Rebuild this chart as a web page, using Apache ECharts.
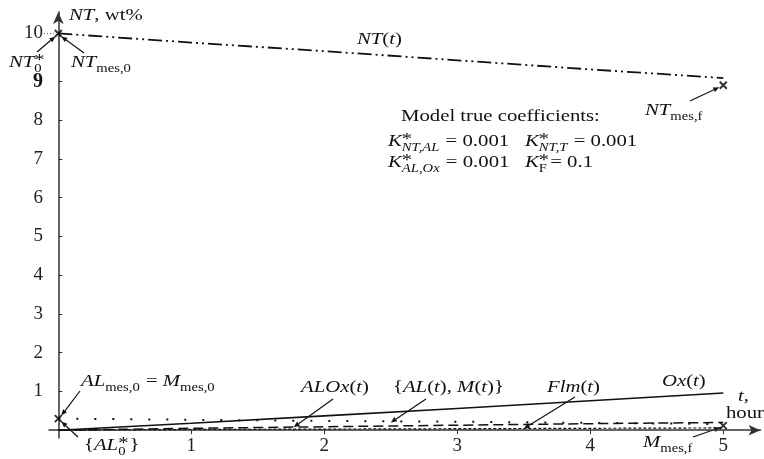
<!DOCTYPE html>
<html><head><meta charset="utf-8">
<script src="https://cdn.jsdelivr.net/npm/echarts@6/dist/echarts.min.js"></script>
<style>html,body{margin:0;padding:0;background:#fff}#c{width:764px;height:459px}</style>
</head><body><div id="c"></div>
<script>
// ---- data ----
const tHours   = [0, 1, 2, 3, 4, 5];
const NT       = [10, 9.81, 9.63, 9.44, 9.25, 9.07];
const Ox       = [0, 0.18, 0.37, 0.56, 0.76, 0.96];
const ALM      = [0.3, 0.27, 0.24, 0.22, 0.19, 0.16];
const ALOx     = [0, 0.05, 0.09, 0.13, 0.17, 0.2];
const Flm      = [0, 0.02, 0.03, 0.04, 0.05, 0.06];
const NTmeas   = [[0, 10], [5, 8.9]];
const ALMmeas  = [[0, 0.3], [5, 0.12]];
const yTicks   = [1, 2, 3, 4, 5, 6, 7, 8, 9, 10];
const xTicks   = [1, 2, 3, 4, 5];

// the reference's y axis is stretched between 9 and 10
const STRETCH = 1.237;
function warp(v) { return v <= 9 ? v : 9 + (v - 9) * STRETCH; }
function unwarp(v) { return v <= 9 ? v : 9 + (v - 9) / STRETCH; }
const pairs = arr => tHours.map((t, i) => [t, warp(arr[i])]);

const SERIF = '"Liberation Serif","DejaVu Serif",serif';
const chart = echarts.init(document.getElementById('c'), null, {renderer: 'canvas'});
const X = 'path://M0,0L10,10M10,0L0,10';

const lineS = (name, arr, type, width) => ({
  name, type: 'line', data: pairs(arr), symbol: 'none', animation: false,
  lineStyle: {color: '#111', width: width || 1.4, type}
});

chart.setOption({
  animation: false,
  backgroundColor: '#fff',
  grid: {left: 49, right: 3.5, top: 12, bottom: 21, containLabel: false, outerBoundsMode: 'none'},
  xAxis: {
    type: 'value', min: -0.07, max: 5.28,
    axisLine: {onZero: true, lineStyle: {color: '#333', width: 1.5}, symbol: ['none', 'arrow'], symbolSize: [8, 12]},
    axisTick: {show: true, length: 4, customValues: xTicks, lineStyle: {color: '#333'}},
    axisLabel: {customValues: xTicks, margin: -1, color: '#222', fontSize: 19, fontFamily: SERIF},
    splitLine: {show: false}
  },
  yAxis: {
    type: 'value', min: -0.2, max: 10.79,
    axisLine: {show: true, onZero: true, lineStyle: {color: '#333', width: 1.5}, symbol: ['none', 'arrow'], symbolSize: [8, 12]},
    axisTick: {show: true, inside: true, length: 4, customValues: yTicks.map(warp), lineStyle: {color: '#333'}},
    axisLabel: {
      customValues: yTicks.map(warp), margin: 6, color: '#222', fontSize: 19, fontFamily: SERIF,
      formatter: v => { const n = Math.round(unwarp(v)); return n === 9 ? '{b|9}' : String(n); },
      rich: {b: {fontWeight: 'bold', fontSize: 20, fontFamily: SERIF, color: '#111'}}
    },
    splitLine: {show: false}
  },
  series: [
    lineS('NT', NT, [14, 4, 2, 4, 2, 4], 1.8),
    lineS('Ox', Ox, 'solid', 1.6),
    lineS('ALM', ALM, [2, 16], 2),
    lineS('ALOx', ALOx, [10, 5], 1.5),
    lineS('Flm', Flm, [3, 2], 1.2),
    {type: 'scatter', symbol: X, symbolSize: 7, data: NTmeas.map(p => [p[0], warp(p[1])]),
     itemStyle: {color: 'none', borderColor: '#000', borderWidth: 2}, z: 5},
    {type: 'scatter', symbol: X, symbolSize: 7, data: ALMmeas.map(p => [p[0], warp(p[1])]),
     itemStyle: {color: 'none', borderColor: '#000', borderWidth: 2}, z: 5}
  ]
});

// ---- annotations ----
const SX = 1.22; // the reference's lettering is horizontally wide
const ctx = document.createElement('canvas').getContext('2d');
function fnt(size, it) { return (it ? 'italic ' : '') + size + 'px ' + SERIF; }
function mw(s, size, it) { ctx.font = fnt(size, it); return ctx.measureText(s).width * SX; }
function txt(x, y, s, size, it) {
  return {type: 'text', x, y, scaleX: SX, silent: true,
    style: {text: s, fontSize: size, fontFamily: SERIF, fontStyle: it ? 'italic' : 'normal',
            fill: '#111', verticalAlign: 'middle', align: 'left'}};
}
const M = 17, S = 12;
// parts: [text, italic] main; {sub, it} ; {sup} ; {sup, sub}
function label(x, y, parts) {
  const els = []; let cx = x;
  parts.forEach(p => {
    if (Array.isArray(p)) {
      els.push(txt(cx, y, p[0], M, p[1])); cx += mw(p[0], M, p[1]);
    } else {
      let wd = 0;
      if (p.sup) { els.push(txt(cx, y - 2, p.sup, 17, false)); wd = Math.max(wd, mw(p.sup, 17, false)); }
      if (p.sub) { els.push(txt(cx, y + 6, p.sub, S, p.it)); wd = Math.max(wd, mw(p.sub, S, p.it)); }
      cx += wd + 1;
    }
  });
  return els;
}
function arrow(x1, y1, x2, y2) {
  const a = Math.atan2(y2 - y1, x2 - x1), L = 6, W = 2.5;
  const bx = x2 - L * Math.cos(a), by = y2 - L * Math.sin(a);
  const px = -Math.sin(a) * W, py = Math.cos(a) * W;
  return [{type: 'line', silent: true, shape: {x1, y1, x2: bx, y2: by}, style: {stroke: '#111', lineWidth: 1.2}},
          {type: 'polygon', silent: true, shape: {points: [[x2, y2], [bx + px, by + py], [bx - px, by - py]]}, style: {fill: '#111'}}];
}
const px = (t, v) => chart.convertToPixel({gridIndex: 0}, [t, warp(v)]);

const pNT0 = px(NTmeas[0][0], NTmeas[0][1]);
const pNTf = px(NTmeas[1][0], NTmeas[1][1]);
const pAL0 = px(ALMmeas[0][0], ALMmeas[0][1]);
const pMf  = px(ALMmeas[1][0], ALMmeas[1][1]);
const pALOx = px(1.77, 0.08);
const pALM  = px(2.5, 0.2);
const pFlm  = px(3.5, 0.04);

let g = [];
g = g.concat(
  label(69, 16, [['NT', true], [', wt%', false]]),
  label(9, 63, [['NT', true], {sup: '*', sub: '0'}]),
  arrow(37, 52, pNT0[0] - 3, pNT0[1] + 3),
  label(71, 63, [['NT', true], {sub: 'mes,0'}]),
  arrow(84, 53, pNT0[0] + 3, pNT0[1] + 3),
  label(357, 40, [['NT', true], ['(', false], ['t', true], [')', false]]),
  label(645, 111, [['NT', true], {sub: 'mes,f'}]),
  arrow(690, 101, pNTf[0] - 4, pNTf[1] + 2),
  label(401, 117, [['Model true coefficients:', false]]),
  label(388, 142, [['K', true], {sup: '*', sub: 'NT,AL', it: true}, [' = 0.001', false]]),
  label(525, 142, [['K', true], {sup: '*', sub: 'NT,T', it: true}, [' = 0.001', false]]),
  label(388, 163, [['K', true], {sup: '*', sub: 'AL,Ox', it: true}, [' = 0.001', false]]),
  label(525, 163, [['K', true], {sup: '*', sub: 'F'}, ['= 0.1', false]]),
  label(81, 382, [['AL', true], {sub: 'mes,0'}, [' = ', false], ['M', true], {sub: 'mes,0'}]),
  arrow(80, 391, pAL0[0] + 3, pAL0[1] - 3),
  label(84, 446, [['{', false], ['AL', true], {sup: '*', sub: '0'}, ['}', false]]),
  arrow(78, 437, pAL0[0] + 3, pAL0[1] + 3),
  label(301, 388, [['ALOx', true], ['(', false], ['t', true], [')', false]]),
  arrow(333, 399, pALOx[0], pALOx[1]),
  label(393, 388, [['{', false], ['AL', true], ['(', false], ['t', true], ['), ', false], ['M', true], ['(', false], ['t', true], [')}', false]]),
  arrow(426, 399, pALM[0], pALM[1]),
  label(547, 388, [['Flm', true], ['(', false], ['t', true], [')', false]]),
  arrow(575, 397, pFlm[0], pFlm[1]),
  label(662, 382, [['Ox', true], ['(', false], ['t', true], [')', false]]),
  label(643, 443, [['M', true], {sub: 'mes,f'}]),
  arrow(693, 437, pMf[0] - 3, pMf[1] + 2),
  label(738, 397, [['t', true], [',', false]]),
  label(726, 414, [['hour', false]])
);
g.push({type: 'line', silent: true, shape: {x1: 44, y1: pNT0[1], x2: 56, y2: pNT0[1]},
        style: {stroke: '#555', lineWidth: 1, lineDash: [1, 2]}});
chart.setOption({graphic: g});
</script></body></html>
